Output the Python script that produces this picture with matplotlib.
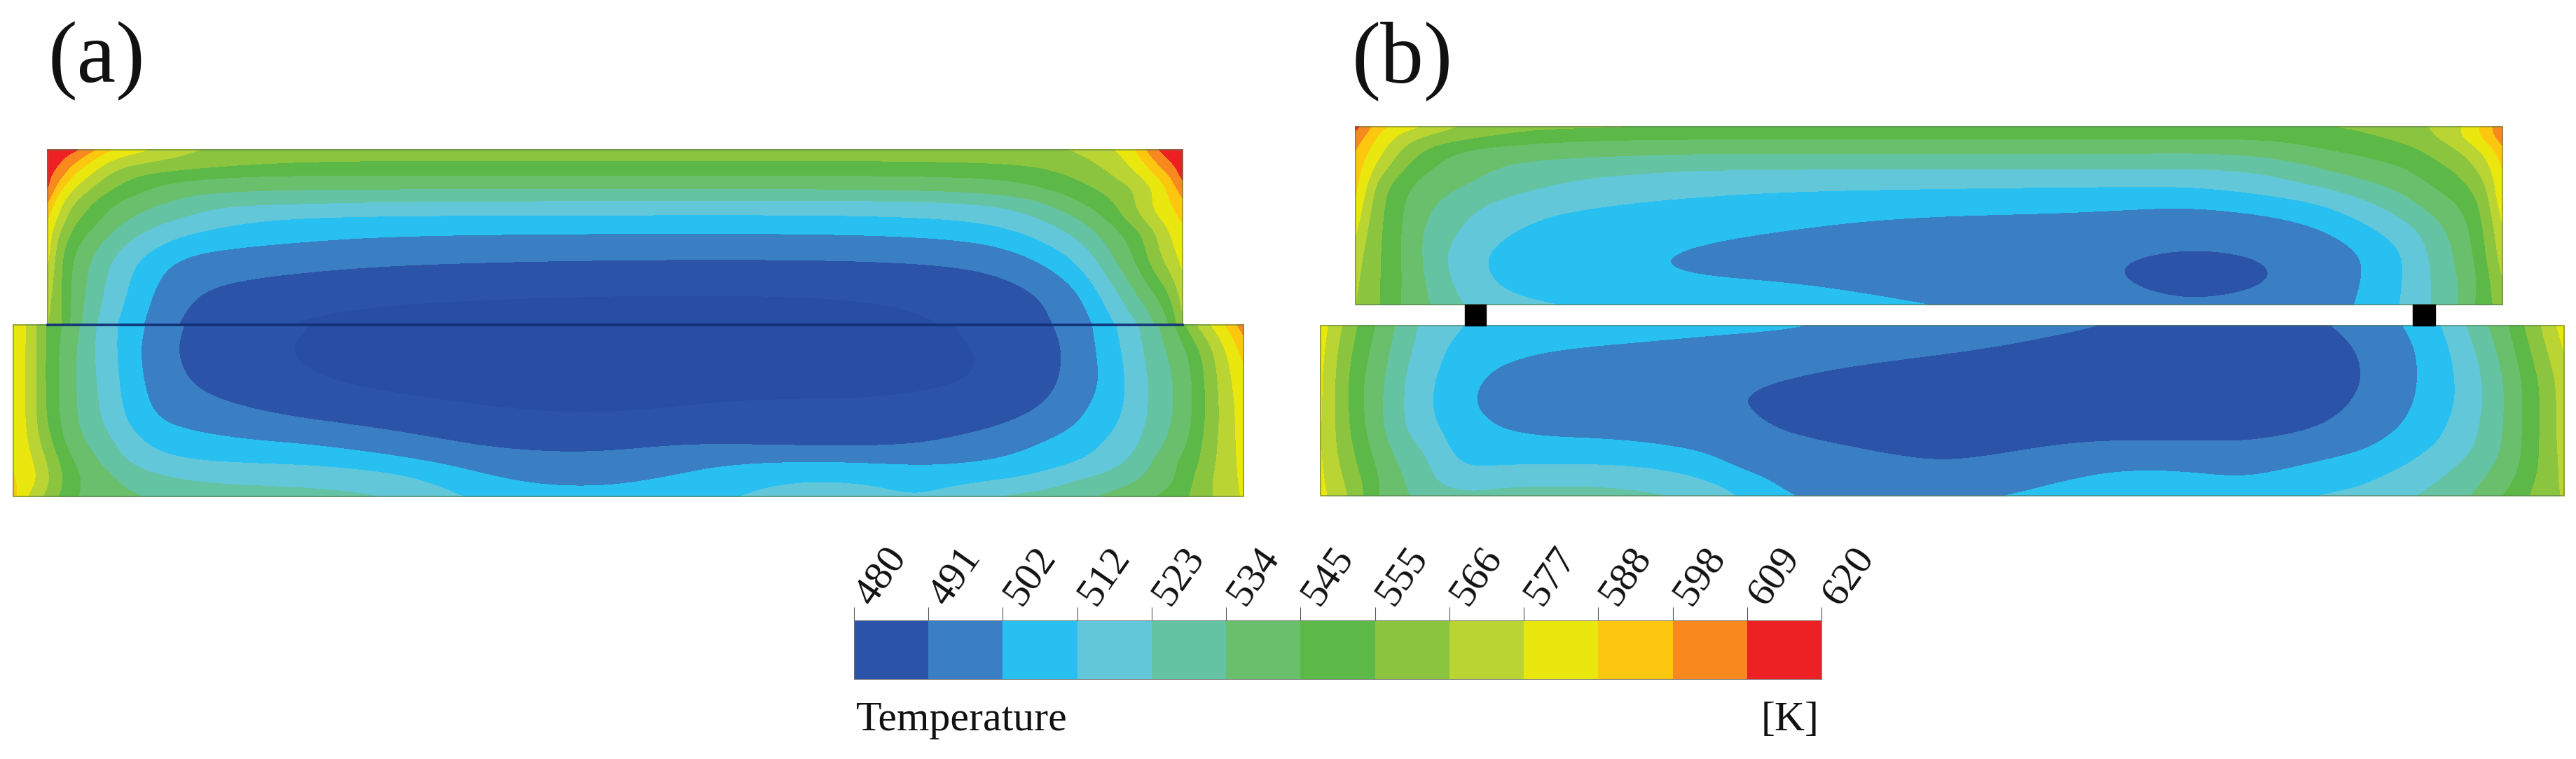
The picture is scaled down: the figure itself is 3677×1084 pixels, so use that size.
import numpy as np
import matplotlib
matplotlib.use('Agg')
import matplotlib.pyplot as plt
from matplotlib.cm import ScalarMappable
from matplotlib.colors import BoundaryNorm, ListedColormap
from matplotlib.patches import Rectangle
from matplotlib.transforms import ScaledTranslation

plt.rcParams['font.family'] = ['Liberation Serif', 'DejaVu Serif']

# legend levels [K] and band colours
levels = [480, 491, 502, 512, 523, 534, 545, 555, 566, 577, 588, 598, 609, 620]
band_colors = ['#2b54a8', '#3a7fc3', '#28c0f1', '#63c7da', '#64c3a3', '#69bf6c',
               '#5cb947', '#8bc53f', '#b9d433', '#eae70e', '#fdc70f', '#f7891f',
               '#ed2024']
core_color = '#274ea4'  # slightly darker core below the scale in (a)

# temperature, one row per y station, one column per x station
a_top_x = [68, 85, 105, 130, 160, 200, 260, 330, 420, 560, 878, 1200, 1400, 1480, 1540, 1590, 1625, 1650, 1670, 1688]
a_top_y = [214, 230, 250, 270, 290, 310, 335, 372, 420, 464]
a_top_t = [
    [620, 615, 612, 600, 586, 579, 567, 563, 561, 560, 560, 560, 561, 563, 566, 575, 588, 608, 615, 620],
    [616, 611, 600, 587, 574, 568, 563, 559, 556, 555, 555, 555, 556, 558, 563, 570, 584, 598, 610, 616],
    [612, 603, 586, 576, 562, 553, 549, 546, 545, 545, 545, 545, 546, 549, 557, 566, 575, 588, 597, 613],
    [610, 588, 577, 564, 554, 547, 538, 536, 534, 534, 534, 534, 537, 544, 550, 559, 567, 578, 590, 602],
    [596, 579, 565, 554, 546, 538, 530, 524, 524, 521, 520, 519, 521, 530, 545, 553, 568, 580, 587, 595],
    [588, 575, 557, 551, 540, 531, 523, 515, 511, 510, 510, 510, 513, 522, 534, 549, 564, 576, 583, 590],
    [583, 562, 551, 542, 532, 522, 511, 507, 505, 502, 501, 501, 504, 513, 524, 541, 550, 564, 576, 584],
    [578, 555, 543, 532, 521, 509, 499, 497, 495, 492, 490, 490, 492, 501, 512, 533, 548, 562, 572, 580],
    [569, 557, 541, 530, 518, 506, 492, 487, 484, 481, 479, 479, 483, 489, 499, 519, 535, 544, 554, 570],
    [566, 558, 539, 526, 513, 503, 488, 484, 479, 476, 475, 476, 481, 488, 495, 511, 522, 534, 544, 563],
]

a_low_x = [19, 40, 60, 85, 110, 140, 175, 215, 270, 350, 450, 570, 690, 830, 960, 1040, 1145, 1230, 1320, 1410, 1480, 1530, 1570, 1610, 1640, 1680, 1710, 1740, 1775]
a_low_y = [464, 500, 550, 600, 635, 660, 685, 709]
a_low_t = [
    [581, 578, 556, 546, 536, 521, 509, 500, 488, 485, 479, 476, 475, 475, 475, 475, 476, 476, 478, 482, 487, 495, 504, 517, 528, 544, 568, 582, 603],
    [581, 578, 556, 544, 533, 520, 509, 497, 487, 482, 478, 475, 474, 474, 475, 475, 476, 477, 478, 480, 484, 493, 503, 514, 526, 538, 550, 570, 590],
    [581, 577, 556, 544, 533, 522, 510, 499, 490, 485, 480, 477, 476, 476, 477, 477, 477, 477, 478, 480, 485, 494, 501, 512, 523, 534, 548, 567, 584],
    [582, 577, 557, 544, 533, 524, 512, 502, 498, 494, 490, 486, 482, 480, 481, 483, 484, 484, 485, 487, 493, 499, 507, 513, 524, 535, 548, 566, 582],
    [584, 578, 564, 548, 537, 530, 520, 510, 507, 504, 502, 496, 489, 487, 491, 490, 488, 488, 490, 496, 502, 507, 511, 518, 527, 539, 551, 568, 581],
    [586, 581, 570, 554, 543, 534, 524, 516, 512, 511, 510, 505, 497, 494, 497, 501, 503, 502, 500, 502, 506, 510, 515, 523, 533, 545, 553, 568, 580],
    [589, 584, 573, 557, 546, 540, 533, 527, 522, 520, 520, 516, 502, 499, 503, 508, 512, 511, 508, 510, 514, 522, 526, 531, 536, 544, 558, 570, 579],
    [591, 575, 567, 553, 545, 538, 536, 533, 530, 528, 526, 523, 507, 504, 506, 511, 517, 516, 510, 522, 526, 530, 534, 539, 543, 550, 558, 569, 578],
]

b_top_x = [1935, 1950, 1970, 2000, 2030, 2070, 2130, 2210, 2330, 2430, 2550, 2750, 2950, 3050, 3130, 3230, 3310, 3370, 3430, 3470, 3510, 3545, 3572]
b_top_y = [181, 195, 215, 240, 265, 295, 330, 365, 400, 435]
b_top_t = [
    [612, 602, 590, 582, 576, 566, 560, 556, 555, 553, 553, 553, 553, 553, 553, 554, 554, 556, 561, 566, 574, 590, 606],
    [604, 596, 584, 574, 565, 560, 554, 548, 547, 547, 547, 547, 547, 547, 547, 546, 550, 553, 557, 564, 575, 590, 604],
    [597, 589, 580, 564, 554, 545, 540, 540, 537, 536, 536, 536, 536, 536, 535, 538, 544, 547, 551, 556, 565, 577, 594],
    [593, 584, 571, 556, 547, 541, 534, 527, 525, 523, 523, 523, 523, 523, 523, 524, 534, 540, 544, 551, 556, 570, 587],
    [590, 578, 558, 548, 541, 536, 530, 523, 518, 516, 514, 513, 512, 512, 512, 517, 523, 530, 537, 545, 551, 560, 588],
    [585, 571, 556, 546, 537, 529, 520, 513, 510, 508, 506, 504, 503, 502, 501, 504, 509, 518, 528, 537, 544, 555, 582],
    [578, 566, 555, 545, 533, 525, 514, 508, 506, 504, 502, 498, 498, 496, 495, 496, 500, 507, 517, 527, 538, 553, 574],
    [572, 562, 555, 545, 533, 520, 509, 505, 503, 500, 497, 494, 493, 491, 489, 491, 495, 501, 510, 524, 536, 551, 571],
    [568, 561, 555, 545, 535, 522, 510, 505, 503, 502, 502, 499, 496, 489, 484, 489, 496, 501, 511, 523, 533, 548, 565],
    [566, 560, 555, 544, 537, 526, 516, 512, 509, 507, 505, 502, 499, 495, 492, 495, 498, 502, 512, 523, 533, 551, 559],
]

b_low_x = [1885, 1905, 1930, 1960, 1990, 2030, 2070, 2105, 2140, 2200, 2300, 2400, 2490, 2550, 2680, 2780, 2870, 3000, 3110, 3210, 3310, 3380, 3440, 3490, 3530, 3570, 3600, 3630, 3660]
b_low_y = [465, 500, 540, 575, 610, 640, 665, 690, 708]
b_low_t = [
    [582, 572, 557, 546, 534, 520, 514, 510, 509, 508, 507, 505, 504, 503, 498, 496, 494, 491, 487, 487, 489, 495, 503, 512, 526, 540, 553, 567, 582],
    [580, 568, 554, 543, 531, 518, 510, 508, 505, 502, 500, 499, 497, 496, 494, 492, 490, 487, 485, 485, 486, 492, 500, 509, 521, 536, 549, 563, 577],
    [578, 566, 551, 540, 528, 514, 509, 503, 499, 497, 496, 494, 492, 491, 487, 485, 484, 483, 483, 483, 485, 491, 500, 508, 518, 532, 545, 557, 572],
    [578, 566, 551, 539, 527, 514, 507, 501, 498, 496, 494, 492, 491, 488, 484, 483, 483, 482, 482, 482, 486, 493, 501, 508, 518, 531, 545, 556, 571],
    [577, 566, 552, 540, 527, 515, 509, 505, 501, 499, 498, 496, 493, 489, 486, 485, 485, 484, 484, 485, 490, 497, 503, 511, 520, 532, 545, 556, 571],
    [577, 567, 555, 543, 531, 523, 510, 508, 507, 505, 505, 502, 498, 494, 490, 489, 489, 495, 495, 493, 498, 501, 508, 514, 522, 533, 545, 557, 570],
    [578, 569, 557, 546, 535, 526, 514, 510, 511, 512, 512, 509, 499, 497, 493, 491, 494, 501, 501, 499, 503, 507, 512, 520, 527, 536, 546, 557, 569],
    [579, 572, 561, 548, 537, 529, 518, 520, 521, 522, 522, 517, 507, 499, 495, 495, 499, 505, 505, 502, 508, 511, 518, 525, 531, 540, 549, 559, 568],
    [580, 573, 563, 547, 537, 531, 527, 524, 526, 526, 526, 523, 510, 501, 498, 499, 502, 508, 509, 507, 512, 515, 522, 527, 534, 544, 552, 560, 567],
]

panel_labels = ['(a)', '(b)']
scale_name = 'Temperature'
scale_unit = '[K]'

STEPS = 24      # samples per station when resampling a table
SIGMA = 0.42    # smoothing width, in stations


def soften(values, axis):
    # gaussian blur along one axis, odd reflection keeps the edge values
    half = int(3 * SIGMA * STEPS)
    u = np.arange(-half, half + 1) / STEPS
    kernel = np.exp(-0.5 * (u / SIGMA) ** 2)
    kernel /= kernel.sum()

    def one(row):
        padded = np.pad(row, half, mode='reflect', reflect_type='odd')
        return np.convolve(padded, kernel, mode='valid')
    return np.apply_along_axis(one, axis, values)


def resample(table, axis):
    n = table.shape[axis]
    pos = np.linspace(0, n - 1, (n - 1) * STEPS + 1)
    return np.apply_along_axis(lambda r: np.interp(pos, np.arange(n), r), axis, table)


def draw_block(ax, xs, ys, temps):
    # the readings are coarse, blur them in station space so the bands come out smooth
    z = np.array(temps, float)
    z = soften(resample(z, 1), 1)
    z = soften(resample(z, 0), 0)
    fx = soften(resample(np.array(xs, float), 0), 0)
    fy = soften(resample(np.array(ys, float), 0), 0)
    gx, gy = np.meshgrid(fx, fy)
    bounds = [400] + levels + [700]
    colors = [core_color] + band_colors + [band_colors[-1]]
    cs = ax.contourf(gx, gy, z, levels=bounds, colors=colors)
    cs.set_edgecolor('face')
    cs.set_linewidth(0.6)
    ax.add_patch(Rectangle((xs[0], ys[0]), xs[-1] - xs[0], ys[-1] - ys[0], fill=False,
                           edgecolor='#5f7f55', linewidth=1.2, alpha=0.7, zorder=3))


fig = plt.figure(figsize=(36.77, 10.84), dpi=100)
ax = fig.add_axes([0, 0, 1, 1])
ax.set_xlim(0, 3677)
ax.set_ylim(1084, 0)
ax.axis('off')

draw_block(ax, a_low_x, a_low_y, a_low_t)
draw_block(ax, a_top_x, a_top_y, a_top_t)
draw_block(ax, b_low_x, b_low_y, b_low_t)
draw_block(ax, b_top_x, b_top_y, b_top_t)

# contact line in (a), spacers in (b)
ax.plot([a_top_x[0], a_top_x[-1]], [464, 464], color='#0c2a78', linewidth=2.6, alpha=0.9, zorder=4)
ax.add_patch(Rectangle((2091, 435), 30, 30, color='black', zorder=4))
ax.add_patch(Rectangle((3444, 435), 32, 30, color='black', zorder=4))

ax.text(68, 117, panel_labels[0], fontsize=90, ha='left', va='baseline', color='#111111')
ax.text(1930, 117, panel_labels[1], fontsize=89, ha='left', va='baseline', color='#111111')

# scale bar
W, H = 3677.0, 1084.0
cax = fig.add_axes([1219 / W, 1 - 970 / H, (2600 - 1219) / W, 84 / H])
cmap = ListedColormap(band_colors)
norm = BoundaryNorm(levels, cmap.N)
cb = fig.colorbar(ScalarMappable(norm=norm, cmap=cmap), cax=cax, orientation='horizontal',
                  spacing='uniform', ticks=levels, drawedges=False)
cb.outline.set_edgecolor('#777777')
cb.outline.set_linewidth(0.6)
cax.xaxis.set_ticks_position('top')
cax.tick_params(axis='x', length=14, width=0.8, color='#555555', pad=6)
cax.minorticks_off()
labels = cax.set_xticklabels([str(v) for v in levels], rotation=55, ha='left', va='center',
                             rotation_mode='anchor', fontsize=42, color='#111111')
nudge = ScaledTranslation(14 / 100, 0, fig.dpi_scale_trans)
for lab in labels:
    lab.set_transform(lab.get_transform() + nudge)

ax.text(1222, 1043, scale_name, fontsize=43, ha='left', va='baseline', color='#111111')
ax.text(2597, 1043, scale_unit, fontsize=43, ha='right', va='baseline', color='#111111')

fig.savefig('out.png', dpi=100, facecolor='white')
